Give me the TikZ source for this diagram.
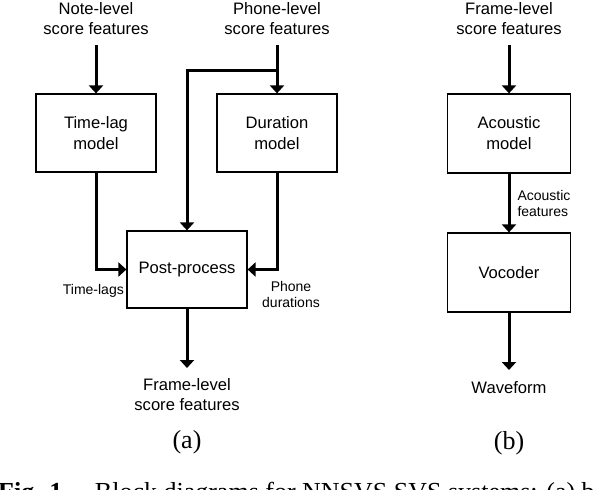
\documentclass[tikz,border=0pt]{standalone}
\usepackage{fontspec}
\setmainfont{Liberation Sans}
\newfontfamily\capfont{Liberation Serif}
\usetikzlibrary{arrows.meta}
\newcommand\bigtxt{\fontsize{16.6}{20}\selectfont}
\newcommand\boxtxt{\fontsize{16.6}{21}\selectfont}
\newcommand\smalltxt{\fontsize{14}{16}\selectfont}

\begin{document}
\begin{tikzpicture}[x=1pt,y=-1pt,
  block/.style={draw,line width=1.2pt,minimum width=120pt,minimum height=78pt,align=center,font=\boxtxt},
  lbl/.style={align=center,font=\bigtxt,inner xsep=0pt,inner ysep=10pt},
  sml/.style={align=center,font=\smalltxt,inner sep=0pt},
  flow/.style={line width=3pt,-{Triangle[width=14pt,length=8pt]}},
  sub/.style={font=\capfont\fontsize{26}{28}\selectfont}]
  \useasboundingbox (0,0) rectangle (598,490);
  \clip (0,0) rectangle (598,490);

  % (a) score feature processing
  \node[lbl,anchor=south] (notein) at (96,45) {Note-level\\score features};
  \node[lbl,anchor=south] (phonein) at (277,45) {Phone-level\\score features};
  \node[block] (timelag) at (96,133) {Time-lag\\model};
  \node[block] (duration) at (277,133) {Duration\\model};
  \node[block,minimum height=77pt] (post) at (187,269.5) {Post-process};
  \node[lbl,anchor=north] (frameout) at (187,368) {Frame-level\\score features};
  \node[sml,anchor=east] (lags) at (124,291) {Time-lags};
  \node[sml] (durs) at (291,294) {Phone\\durations};
  \coordinate (split) at (phonein.south |- 0,70);
  \draw[flow] (notein) -- (timelag);
  \draw[flow] (phonein) -- (duration);
  \draw[flow] (split) -| (post.north);
  \draw[flow] (timelag.south) |- (post.west);
  \draw[flow] (duration.south) |- (post.east);
  \draw[flow] (post) -- (frameout);
  \node[sub] (suba) at (187,442) {(a)};

  % (b) waveform generation
  \node[lbl,anchor=south] (framein) at (509,45) {Frame-level\\score features};
  \node[block,minimum width=123pt,minimum height=79pt] (acoustic) at (509,133.5) {Acoustic\\model};
  \node[block,minimum width=123pt,minimum height=79pt] (vocoder) at (509,272.5) {Vocoder};
  \node[lbl,anchor=north,inner ysep=11pt] (wave) at (509,370) {Waveform};
  \draw[flow] (framein) -- (acoustic);
  \draw[flow] (acoustic) -- node[sml,right,align=left,inner xsep=7pt] (feats) {Acoustic\\features} (vocoder);
  \draw[flow] (vocoder) -- (wave);
  \node[sub] (subb) at (509,443) {(b)};

  \node[anchor=base west,inner sep=0pt,font=\capfont\fontsize{26}{28}\selectfont] (caption) at (-2,500.5)
    {\textbf{Fig. 1.}\quad Block diagrams for NNSVS SVS systems: (a) b};
\end{tikzpicture}
\end{document}
